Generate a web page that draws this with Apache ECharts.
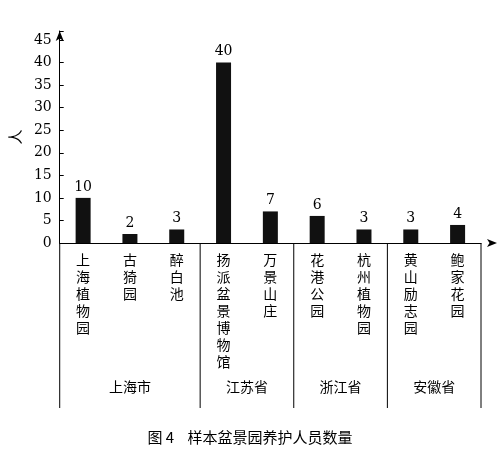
<!DOCTYPE html>
<html><head><meta charset="utf-8">
<script src="https://cdn.jsdelivr.net/npm/echarts@6/dist/echarts.min.js"></script>
<style>html,body{margin:0;padding:0;background:#fff}#show{width:499px;height:455px}</style>
</head><body><div id="show"></div>
<script>
var categories = ['上海植物园','古猗园','醉白池','扬派盆景博物馆','万景山庄','花港公园','杭州植物园','黄山励志园','鲍家花园'];
var values = [10, 2, 3, 40, 7, 6, 3, 3, 4];
var groups = ['上海市','江苏省','浙江省','安徽省'];
var groupSizes = [3, 2, 2, 2];
var yTicks = [0, 5, 10, 15, 20, 25, 30, 35, 40, 45];

var font = '"Noto Sans CJK SC", "DejaVu Serif", serif';
var myChart = echarts.init(document.getElementById('show'));
var option = {
    animation: false,
    grid: {left: 58, right: 18, top: 31, bottom: 212},
    xAxis: {
        type: 'category',
        data: categories,
        axisLine: {lineStyle: {color: '#000', width: 1}, symbol: ['none', 'arrow'], symbolSize: [6, 10], symbolOffset: [0, 16]},
        axisTick: {show: false},
        axisLabel: {
            color: '#000', fontSize: 14, fontFamily: font, lineHeight: 17, margin: 8, interval: 0,
            formatter: function (v) { return v.split('').join('\n'); }
        }
    },
    yAxis: {
        type: 'value', min: 0, max: 47, interval: 5,
        name: '人', nameLocation: 'middle', nameGap: 34, nameRotate: 90,
        nameTextStyle: {color: '#000', fontSize: 15, fontFamily: font},
        axisLine: {show: true, lineStyle: {color: '#000', width: 1}, symbol: ['none', 'arrow'], symbolSize: [6, 10]},
        axisTick: {show: true, inside: true, length: 4, lineStyle: {color: '#000'}},
        splitLine: {show: false},
        axisLabel: {
            color: '#000', fontSize: 14, fontFamily: 'DejaVu Serif, serif',
            formatter: function (v) { return yTicks.indexOf(v) >= 0 ? v : ''; }
        }
    },
    series: [{
        type: 'bar', data: values, barWidth: 15,
        itemStyle: {color: '#111'},
        label: {show: true, position: 'top', color: '#000', fontSize: 14, fontFamily: 'DejaVu Serif, serif', distance: 4}
    }]
};
myChart.setOption(option);

// group separators and labels below the axis
var y0 = myChart.convertToPixel({gridIndex: 0}, [0, 0])[1];
var step = myChart.convertToPixel({gridIndex: 0}, [1, 0])[0] - myChart.convertToPixel({gridIndex: 0}, [0, 0])[0];
var start = myChart.convertToPixel({gridIndex: 0}, [0, 0])[0] - step / 2;
var els = [];
var idx = 0;
var bounds = [start];
for (var g = 0; g < groups.length; g++) {
    var a = start + idx * step;
    idx += groupSizes[g];
    var b = start + idx * step;
    bounds.push(b);
    els.push({type: 'text', style: {text: groups[g], x: (a + b) / 2, y: 387, align: 'center', verticalAlign: 'middle', fill: '#000', font: '14px ' + font}});
}
bounds.forEach(function (x) {
    els.push({type: 'line', shape: {x1: x, y1: y0, x2: x, y2: 408}, style: {stroke: '#000', lineWidth: 1}});
});
els.push({type: 'text', style: {text: '图 4    样本盆景园养护人员数量', x: 250, y: 437, align: 'center', verticalAlign: 'middle', fill: '#000', font: '15px ' + font}});
myChart.setOption({graphic: els});
</script>
</body></html>
